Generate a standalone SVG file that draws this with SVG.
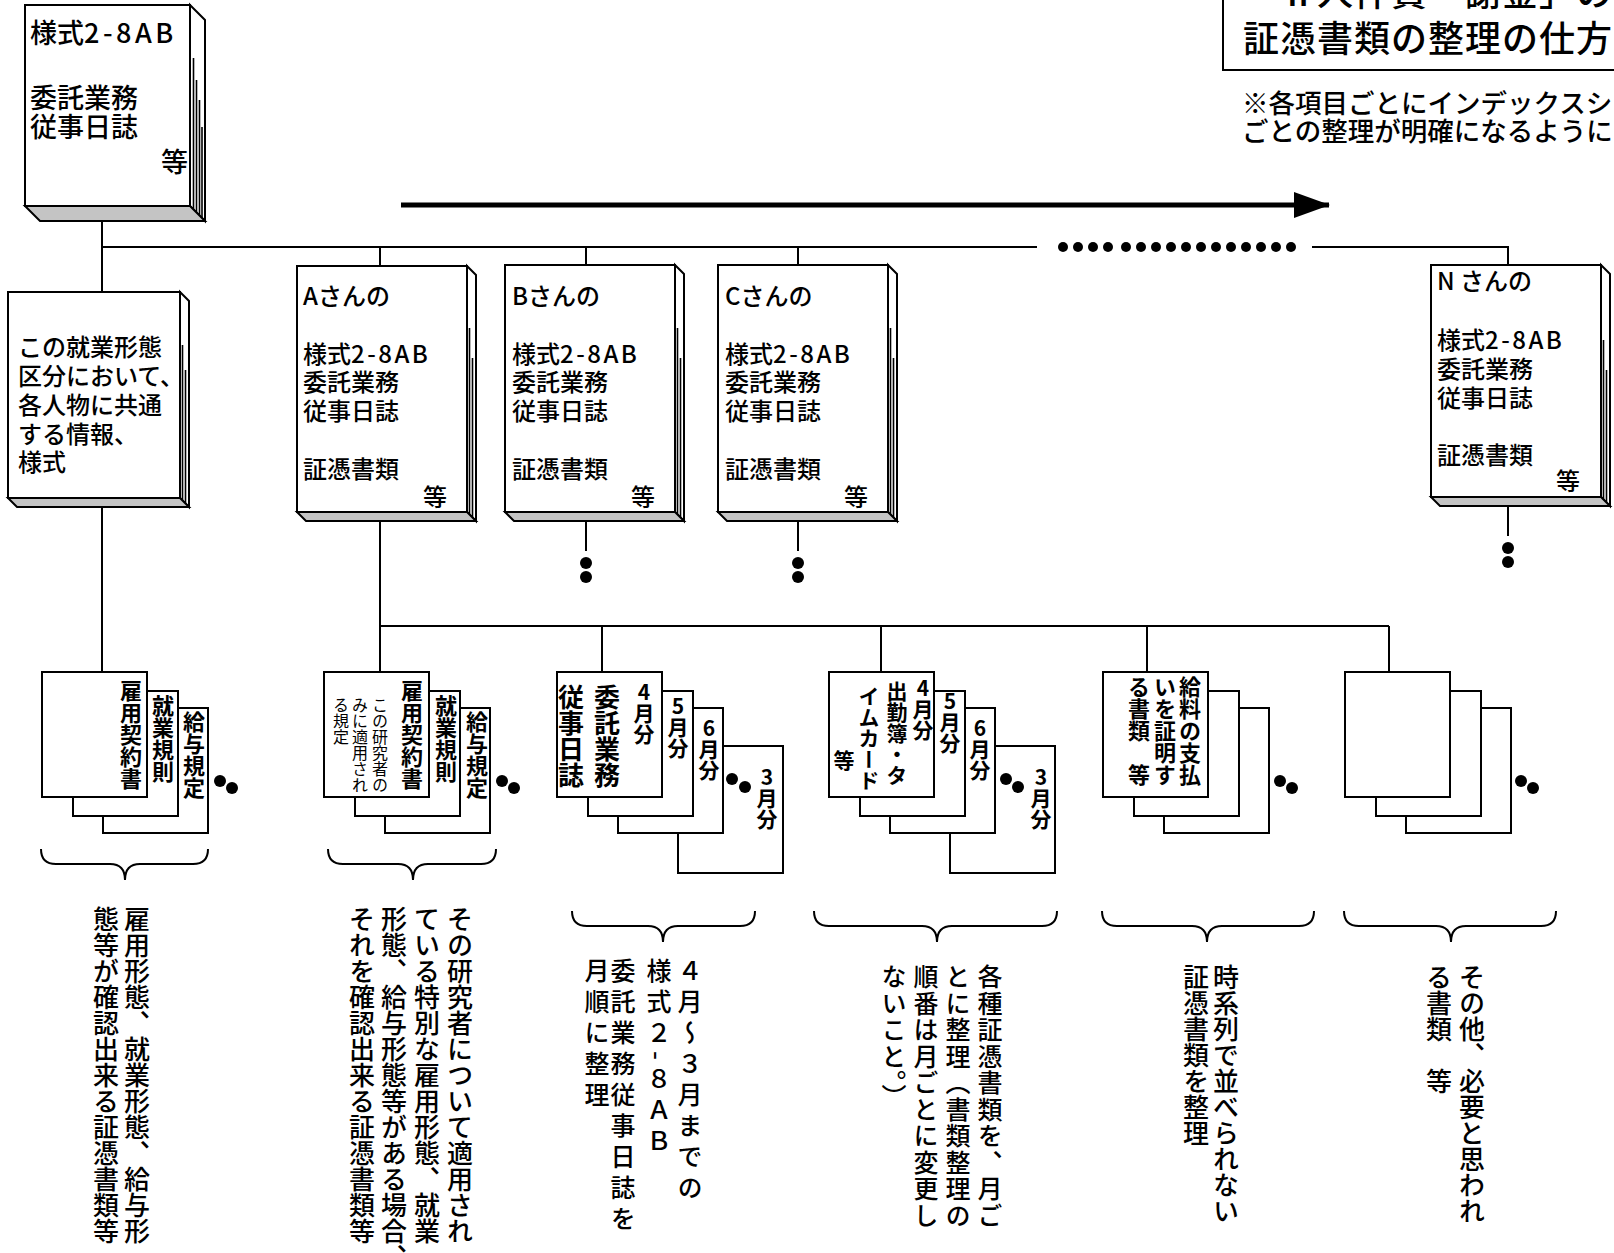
<svg xmlns="http://www.w3.org/2000/svg" width="1614" height="1253" viewBox="0 0 1614 1253">
<defs>
<style>
.ln{stroke:#000;stroke-width:2;fill:none}
.face{fill:#fff;stroke:#000;stroke-width:2}
.base{fill:#c4c4c4;stroke:#000;stroke-width:2}
.pg{stroke:#000;stroke-width:1.6}
.dot{fill:#000}
.t{font-family:"Noto Sans CJK JP","Noto Sans CJK SC",sans-serif;fill:#000}
.bk{font-size:24px;font-weight:500}
.lat{letter-spacing:2.5px}
.v{writing-mode:vertical-rl;text-orientation:upright}
.vm{writing-mode:vertical-rl;text-orientation:mixed}
.lab{font-size:22px;font-weight:bold}
.sm{font-size:16px;font-weight:normal}
.desc{font-size:26px;font-weight:500}
</style>
<marker id="ah" markerUnits="userSpaceOnUse" markerWidth="36" markerHeight="26" refX="35" refY="13" orient="auto">
<path d="M0,0 L36,13 L0,26 Z" fill="#000"/>
</marker>
</defs>
<rect width="1614" height="1253" fill="#fff"/>

<g id="connectors">
<line class="ln" x1="102" y1="221" x2="102" y2="292"/>
<line class="ln" x1="102" y1="247" x2="1037" y2="247"/>
<g class="dot">
<circle cx="1063" cy="247" r="5"/><circle cx="1078" cy="247" r="5"/><circle cx="1093" cy="247" r="5"/><circle cx="1108" cy="247" r="5"/>
<circle cx="1126" cy="247" r="5"/><circle cx="1141" cy="247" r="5"/><circle cx="1156" cy="247" r="5"/><circle cx="1171" cy="247" r="5"/>
<circle cx="1186" cy="247" r="5"/><circle cx="1201" cy="247" r="5"/><circle cx="1216" cy="247" r="5"/><circle cx="1231" cy="247" r="5"/>
<circle cx="1246" cy="247" r="5"/><circle cx="1261" cy="247" r="5"/><circle cx="1276" cy="247" r="5"/><circle cx="1291" cy="247" r="5"/>
</g>
<polyline class="ln" points="1312,247 1508,247 1508,265"/>
<line class="ln" x1="380" y1="247" x2="380" y2="266"/>
<line class="ln" x1="586" y1="247" x2="586" y2="265"/>
<line class="ln" x1="798" y1="247" x2="798" y2="265"/>
<line class="ln" x1="102" y1="507" x2="102" y2="672"/>
<line class="ln" x1="380" y1="521" x2="380" y2="672"/>
<line class="ln" x1="380" y1="626" x2="1389" y2="626"/>
<line class="ln" x1="602" y1="626" x2="602" y2="672"/>
<line class="ln" x1="881" y1="626" x2="881" y2="672"/>
<line class="ln" x1="1147" y1="626" x2="1147" y2="672"/>
<line class="ln" x1="1389" y1="626" x2="1389" y2="672"/>
<line class="ln" x1="586" y1="521" x2="586" y2="551"/>
<circle class="dot" cx="586" cy="563" r="6"/><circle class="dot" cx="586" cy="577" r="6"/>
<line class="ln" x1="798" y1="521" x2="798" y2="551"/>
<circle class="dot" cx="798" cy="563" r="6"/><circle class="dot" cx="798" cy="577" r="6"/>
<line class="ln" x1="1508" y1="506" x2="1508" y2="536"/>
<circle class="dot" cx="1508" cy="548" r="6"/><circle class="dot" cx="1508" cy="562" r="6"/>
<line x1="401" y1="205" x2="1329" y2="205" stroke="#000" stroke-width="5" marker-end="url(#ah)"/>
<path class="ln" d="M41,849 Q41,864 56,864 L110,864 Q125,864 125,880 Q125,864 140,864 L193,864 Q208,864 208,849"/>
<path class="ln" d="M328,849 Q328,864 343,864 L398,864 Q413,864 413,880 Q413,864 428,864 L481,864 Q496,864 496,849"/>
<path class="ln" d="M572,911 Q572,926 587,926 L648,926 Q663,926 663,942 Q663,926 678,926 L740,926 Q755,926 755,911"/>
<path class="ln" d="M814,911 Q814,926 829,926 L922,926 Q937,926 937,942 Q937,926 952,926 L1042,926 Q1057,926 1057,911"/>
<path class="ln" d="M1102,911 Q1102,926 1117,926 L1192,926 Q1207,926 1207,942 Q1207,926 1222,926 L1299,926 Q1314,926 1314,911"/>
<path class="ln" d="M1344,911 Q1344,926 1359,926 L1436,926 Q1451,926 1451,942 Q1451,926 1466,926 L1541,926 Q1556,926 1556,911"/>
</g>

<g id="title">
<rect x="1223" y="-10" width="420" height="80" fill="#fff" stroke="#000" stroke-width="2"/>
<text class="t" x="1243 1280 1317 1354 1391 1428 1465 1502 1539 1576" y="6" font-size="36" font-weight="500">「Ⅱ人件費・謝金」の</text>
<text class="t" x="1243" y="52" font-size="36" font-weight="500" letter-spacing="1">証憑書類の整理の仕方</text>
</g>
<g id="note">
<text class="t" x="1242" y="113" font-size="26.5" font-weight="500">※各項目ごとにインデックスシ</text>
<text class="t" x="1242" y="141" font-size="26.5" font-weight="500">ごとの整理が明確になるように</text>
</g>

<g id="book-top">
<polygon class="face" points="190,5 205,20 205,221 190,206"/>
<polygon class="base" points="25,206 190,206 205,221 40,221"/>
<rect class="face" x="25" y="5" width="165" height="201"/>
<line class="pg" x1="193.5" y1="58" x2="193.5" y2="209"/>
<line class="pg" x1="196.5" y1="80" x2="196.5" y2="212"/>
<line class="pg" x1="199.5" y1="100" x2="199.5" y2="215"/>
<line class="pg" x1="202" y1="127" x2="202" y2="218"/>
<text class="t" x="30" y="43" font-size="27" font-weight="500">様式<tspan letter-spacing="3.5">2-8AB</tspan></text>
<text class="t" x="30" y="108" font-size="27" font-weight="500">委託業務</text>
<text class="t" x="30" y="137" font-size="27" font-weight="500">従事日誌</text>
<text class="t" x="188" y="172" font-size="27" font-weight="500" text-anchor="end">等</text>
</g>

<g id="book-common">
<polygon class="face" points="180,292 189,301 189,507 180,498"/>
<polygon class="base" points="8,498 180,498 189,507 17,507"/>
<rect class="face" x="8" y="292" width="172" height="206"/>
<line class="pg" x1="182.5" y1="345" x2="182.5" y2="500"/>
<line class="pg" x1="185.5" y1="370" x2="185.5" y2="503"/>
<text class="t bk" x="18" y="356">この就業形態</text>
<text class="t bk" x="18" y="385">区分において、</text>
<text class="t bk" x="18" y="414">各人物に共通</text>
<text class="t bk" x="18" y="443">する情報、</text>
<text class="t bk" x="18" y="471">様式</text>
</g>

<g id="book-a">
<polygon class="face" points="467,266 476,275 476,521 467,512"/>
<polygon class="base" points="297,512 467,512 476,521 306,521"/>
<rect class="face" x="297" y="266" width="170" height="246"/>
<line class="pg" x1="469.5" y1="328" x2="469.5" y2="514"/>
<line class="pg" x1="472.5" y1="358" x2="472.5" y2="517"/>
<text class="t bk" x="303" y="305">Aさんの</text>
<text class="t bk" x="303" y="363">様式<tspan class="lat">2-8AB</tspan></text>
<text class="t bk" x="303" y="391">委託業務</text>
<text class="t bk" x="303" y="420">従事日誌</text>
<text class="t bk" x="303" y="478">証憑書類</text>
<text class="t bk" x="447" y="506" text-anchor="end">等</text>
</g>

<g id="book-b">
<polygon class="face" points="675,265 684,274 684,521 675,512"/>
<polygon class="base" points="505,512 675,512 684,521 514,521"/>
<rect class="face" x="505" y="265" width="170" height="247"/>
<line class="pg" x1="677.5" y1="328" x2="677.5" y2="514"/>
<line class="pg" x1="680.5" y1="358" x2="680.5" y2="517"/>
<text class="t bk" x="512" y="305">Bさんの</text>
<text class="t bk" x="512" y="363">様式<tspan class="lat">2-8AB</tspan></text>
<text class="t bk" x="512" y="391">委託業務</text>
<text class="t bk" x="512" y="420">従事日誌</text>
<text class="t bk" x="512" y="478">証憑書類</text>
<text class="t bk" x="655" y="506" text-anchor="end">等</text>
</g>

<g id="book-c">
<polygon class="face" points="888,265 897,274 897,521 888,512"/>
<polygon class="base" points="718,512 888,512 897,521 727,521"/>
<rect class="face" x="718" y="265" width="170" height="247"/>
<line class="pg" x1="890.5" y1="328" x2="890.5" y2="514"/>
<line class="pg" x1="893.5" y1="358" x2="893.5" y2="517"/>
<text class="t bk" x="725" y="305">Cさんの</text>
<text class="t bk" x="725" y="363">様式<tspan class="lat">2-8AB</tspan></text>
<text class="t bk" x="725" y="391">委託業務</text>
<text class="t bk" x="725" y="420">従事日誌</text>
<text class="t bk" x="725" y="478">証憑書類</text>
<text class="t bk" x="868" y="506" text-anchor="end">等</text>
</g>

<g id="book-n">
<polygon class="face" points="1601,265 1610,274 1610,506 1601,497"/>
<polygon class="base" points="1431,497 1601,497 1610,506 1440,506"/>
<rect class="face" x="1431" y="265" width="170" height="232"/>
<line class="pg" x1="1603.5" y1="340" x2="1603.5" y2="499"/>
<line class="pg" x1="1606.5" y1="370" x2="1606.5" y2="502"/>
<text class="t bk" x="1437" y="290">N さんの</text>
<text class="t bk" x="1437" y="349">様式<tspan class="lat">2-8AB</tspan></text>
<text class="t bk" x="1437" y="378">委託業務</text>
<text class="t bk" x="1437" y="407">従事日誌</text>
<text class="t bk" x="1437" y="464">証憑書類</text>
<text class="t bk" x="1580" y="490" text-anchor="end">等</text>
</g>

<g id="docs-1">
<rect class="face" x="103" y="708" width="105" height="125"/>
<rect class="face" x="73" y="691" width="105" height="125"/>
<rect class="face" x="42" y="672" width="105" height="125"/>
<text class="t lab v" x="131" y="680">雇用契約書</text>
<text class="t lab v" x="163" y="695">就業規則</text>
<text class="t lab v" x="194" y="711">給与規定</text>
<circle class="dot" cx="220" cy="781" r="6"/><circle class="dot" cx="232" cy="788" r="6"/>
</g>

<g id="docs-a">
<rect class="face" x="385" y="708" width="105" height="125"/>
<rect class="face" x="355" y="691" width="105" height="125"/>
<rect class="face" x="324" y="672" width="105" height="125"/>
<text class="t lab v" x="412" y="680">雇用契約書</text>
<text class="t sm v" x="380" y="697">この研究者の</text>
<text class="t sm v" x="360" y="697">みに適用され</text>
<text class="t sm v" x="341" y="697">る規定</text>
<text class="t lab v" x="446" y="695">就業規則</text>
<text class="t lab v" x="477" y="711">給与規定</text>
<circle class="dot" cx="502" cy="781" r="6"/><circle class="dot" cx="514" cy="788" r="6"/>
</g>

<g id="docs-diary">
<rect class="face" x="678" y="746" width="105" height="127"/>
<rect class="face" x="618" y="708" width="105" height="125"/>
<rect class="face" x="588" y="691" width="105" height="125"/>
<rect class="face" x="557" y="672" width="105" height="125"/>
<text class="t v" x="644" y="682" font-size="21" font-weight="bold">4月分</text>
<text class="t v" x="607" y="684" font-size="26" font-weight="bold">委託業務</text>
<text class="t v" x="571" y="684" font-size="26" font-weight="bold">従事日誌</text>
<text class="t v" x="678" y="696" font-size="21" font-weight="bold">5月分</text>
<text class="t v" x="709" y="718" font-size="21" font-weight="bold">6月分</text>
<circle class="dot" cx="732" cy="779" r="6"/><circle class="dot" cx="745" cy="787" r="6"/>
<text class="t v" x="767" y="767" font-size="21" font-weight="bold">3月分</text>
</g>

<g id="docs-attendance">
<rect class="face" x="950" y="746" width="105" height="127"/>
<rect class="face" x="890" y="708" width="105" height="125"/>
<rect class="face" x="860" y="691" width="105" height="125"/>
<rect class="face" x="829" y="672" width="105" height="125"/>
<text class="t v" x="923" y="678" font-size="21" font-weight="bold">4月分</text>
<text class="t v" x="897" y="681" font-size="21" font-weight="bold">出勤簿・タ</text>
<text class="t v" x="869" y="686" font-size="21" font-weight="bold">イムカード</text>
<text class="t v" x="844" y="750" font-size="21" font-weight="bold">等</text>
<text class="t v" x="950" y="691" font-size="21" font-weight="bold">5月分</text>
<text class="t v" x="980" y="718" font-size="21" font-weight="bold">6月分</text>
<circle class="dot" cx="1006" cy="779" r="6"/><circle class="dot" cx="1018" cy="787" r="6"/>
<text class="t v" x="1041" y="767" font-size="21" font-weight="bold">3月分</text>
</g>

<g id="docs-salary">
<rect class="face" x="1164" y="708" width="105" height="125"/>
<rect class="face" x="1134" y="691" width="105" height="125"/>
<rect class="face" x="1103" y="672" width="105" height="125"/>
<text class="t lab v" x="1190" y="676">給料の支払</text>
<text class="t lab v" x="1165" y="676">いを証明す</text>
<text class="t lab v" x="1139" y="676">る書類　等</text>
<circle class="dot" cx="1280" cy="781" r="6"/><circle class="dot" cx="1292" cy="788" r="6"/>
</g>

<g id="docs-other">
<rect class="face" x="1406" y="708" width="105" height="125"/>
<rect class="face" x="1376" y="691" width="105" height="125"/>
<rect class="face" x="1345" y="672" width="105" height="125"/>
<circle class="dot" cx="1521" cy="781" r="6"/><circle class="dot" cx="1533" cy="788" r="6"/>
</g>

<g id="desc-1">
<text class="t desc v" x="137" y="906">雇用形態、就業形態、給与形</text>
<text class="t desc v" x="106" y="906">態等が確認出来る証憑書類等</text>
</g>
<g id="desc-a">
<text class="t desc v" x="460" y="906">その研究者について適用され</text>
<text class="t desc v" x="427" y="906">ている特別な雇用形態、就業</text>
<text class="t desc v" x="394" y="906">形態、給与形態等がある場合、</text>
<text class="t desc v" x="362" y="906">それを確認出来る証憑書類等</text>
</g>
<g id="desc-diary">
<text class="t vm" x="690" y="958" font-size="25" font-weight="500" letter-spacing="6">４月～３月までの</text>
<text class="t vm" x="659" y="958" font-size="25" font-weight="500" letter-spacing="6">様式２-８ＡＢ</text>
<text class="t vm" x="623" y="958" font-size="25" font-weight="500" letter-spacing="6">委託業務従事日誌を</text>
<text class="t vm" x="597" y="958" font-size="25" font-weight="500" letter-spacing="6">月順に整理</text>
</g>
<g id="desc-attendance">
<text class="t vm" x="990" y="964" font-size="25" font-weight="500" letter-spacing="1.5">各種証憑書類を、月ご</text>
<text class="t vm" x="958" y="964" font-size="25" font-weight="500" letter-spacing="1.5">とに整理（書類整理の</text>
<text class="t vm" x="926" y="964" font-size="25" font-weight="500" letter-spacing="1.5">順番は月ごとに変更し</text>
<text class="t vm" x="894" y="964" font-size="25" font-weight="500" letter-spacing="1.5">ないこと。）</text>
</g>
<g id="desc-salary">
<text class="t desc v" x="1226" y="964">時系列で並べられない</text>
<text class="t desc v" x="1196" y="964">証憑書類を整理</text>
</g>
<g id="desc-other">
<text class="t desc v" x="1472" y="964">その他、必要と思われ</text>
<text class="t desc v" x="1439" y="964">る書類　等</text>
</g>
</svg>
